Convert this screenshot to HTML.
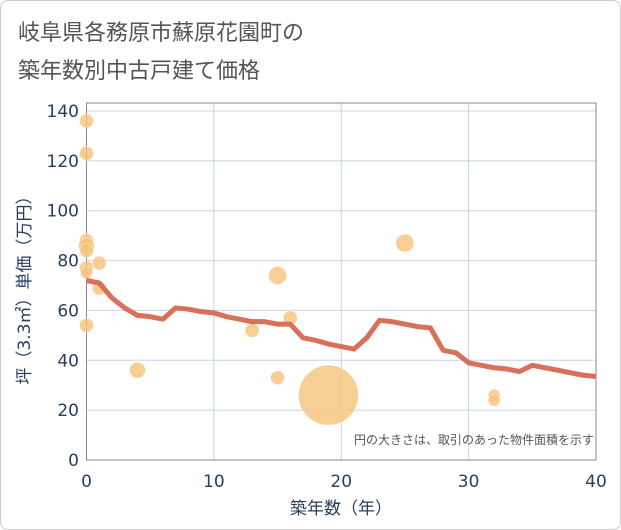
<!DOCTYPE html>
<html><head><meta charset="utf-8"><style>
body{margin:0;background:#fff;font-family:"Liberation Sans","Noto Sans CJK JP",sans-serif}
#frame{position:absolute;left:0;top:0;width:619px;height:528px;border:1px solid #ccc;border-radius:8px}
#title{position:absolute;left:18px;top:14px;font-size:22px;line-height:38px;color:#555}
</style></head><body>
<div id="frame"></div>
<div id="title">岐阜県各務原市蘇原花園町の<br>築年数別中古戸建て価格</div>
<svg id="c" width="621" height="530" style="position:absolute;left:0;top:0"></svg>
<script>
const xTicks=[0,10,20,30,40];
const yTicks=[0,20,40,60,80,100,120,140];
const lineX=[0,1,2,3,4,5,6,7,8,9,10,11,12,13,14,15,16,17,18,19,20,21,22,23,24,25,26,27,28,29,30,31,32,33,34,35,36,37,38,39,40];
const lineY=[72,71,65,61,58,57.5,56.5,61,60.5,59.5,59,57.5,56.5,55.5,55.5,54.5,54.5,49,48,46.5,45.5,44.5,49,56,55.5,54.5,53.5,53,44,43,39,38,37,36.5,35.5,38,37,36,35,34,33.5];
const bubX=[0,0,0,0,0,0,0,0,1,1,4,13,15,15,16,19,25,32,32];
const bubY=[136,123,88,86,84,77,75,54,79,69,36,52,74,33,57,26,87,26,24];
const bubR=[7,7,7,8,7,7,6,7,7,7,8,7,9,7,7,30,9,6,6];
const L=86.5,R=596,T=103,B=460;
const TF='"DejaVu Sans","Noto Sans CJK JP",sans-serif';
const sx=v=>L+(R-L)*v/40, sy=v=>B-(B-111)*v/140;
const svg=document.getElementById('c'),NS='http://www.w3.org/2000/svg';
function mk(t,a,p){const e=document.createElementNS(NS,t);for(const k in a)e.setAttribute(k,a[k]);(p||svg).appendChild(e);return e;}
const g=mk('g',{});


xTicks.forEach(v=>{const l=mk('line',{x1:sx(v),x2:sx(v),y1:T,y2:B,stroke:'#c8d4e3','stroke-width':1},g);

const t=mk('text',{x:sx(v),y:487,'text-anchor':'middle','font-size':17,'font-family':TF,fill:'#2a3f5f'});t.textContent=v;
});
yTicks.forEach(v=>{const l=mk('line',{x1:L,x2:R,y1:sy(v),y2:sy(v),stroke:'#c8d4e3','stroke-width':1},g);

const t=mk('text',{x:79,y:sy(v)+6,'text-anchor':'end','font-size':17,'font-family':TF,fill:'#2a3f5f'});t.textContent=v;
});
const fr=mk('rect',{x:L,y:T,width:R-L,height:B-T,fill:'none',stroke:'#888','stroke-width':1});

bubX.forEach((x,i)=>{const c=mk('circle',{cx:sx(x),cy:sy(bubY[i]),r:bubR[i],fill:'#f5c37a','fill-opacity':0.8,stroke:'#fff','stroke-opacity':0.4});
});
const p=mk('polyline',{points:lineX.map((x,i)=>sx(x)+','+sy(lineY[i])).join(' '),fill:'none',stroke:'#d9705a','stroke-width':5,'stroke-linejoin':'round'});

let t=mk('text',{x:594,y:444,'text-anchor':'end','font-size':12,fill:'#555'});t.textContent='円の大きさは、取引のあった物件面積を示す';

t=mk('text',{x:341,y:514,'text-anchor':'middle','font-size':17,'font-family':TF,fill:'#2a3f5f'});t.textContent='築年数（年）';

t=mk('text',{x:0,y:0,'text-anchor':'middle','font-size':17,'font-family':TF,fill:'#2a3f5f',transform:'translate(30,286) rotate(-90)'});t.textContent='坪（3.3㎡）単価（万円）';

</script>
</body></html>
